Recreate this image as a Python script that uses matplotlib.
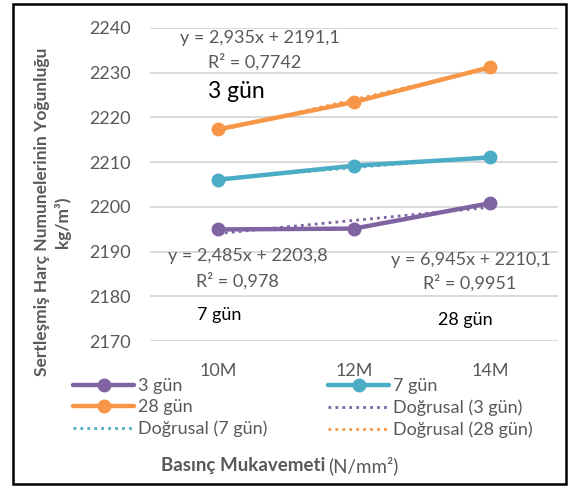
import numpy as np
import matplotlib
matplotlib.use("Agg")
import matplotlib.pyplot as plt
from matplotlib.patches import Rectangle

plt.rcParams['font.family'] = ['Lato', 'DejaVu Sans']

categories = ['10M', '12M', '14M']
gun3 = [2194.95, 2195.14, 2200.82]
gun7 = [2206.07, 2209.20, 2211.04]
gun28 = [2217.33, 2223.43, 2231.22]

series = [('3 gün', gun3, '#8064A2'),
          ('7 gün', gun7, '#4BACC6'),
          ('28 gün', gun28, '#F79646')]

W, H = 575, 488
fig = plt.figure(figsize=(W / 100, H / 100), dpi=100)
ax = fig.add_axes([150 / W, 1 - 341 / H, 408 / W, 313 / H])

x = np.arange(len(categories))
handles = {}
for name, vals, col in series:
    h, = ax.plot(x, vals, color=col, lw=3.2, marker='o', ms=9,
                 solid_capstyle='round', zorder=3, label=name)
    handles[name] = h
    k, b = np.polyfit(x, vals, 1)
    t, = ax.plot(x, k * x + b, color=col, lw=2, ls=(0, (1, 1.5)), zorder=4,
                 label='Doğrusal (%s)' % name)
    handles['D' + name] = t

ax.set_xlim(-0.5, 2.5)
ax.set_ylim(2170, 2240)
ax.set_yticks(range(2170, 2241, 10))
ax.set_xticks(x)
ax.set_xticklabels(categories)
ax.grid(axis='y', color='#D9D9D9', lw=1.4)
ax.set_axisbelow(True)
for s in ax.spines.values():
    s.set_visible(False)
ax.tick_params(length=0, labelsize=13, colors='#595959')
ax.tick_params(axis='y', pad=14)
ax.tick_params(axis='x', pad=16)


def ftext(px, py, s, **kw):
    fig.text(px / W, 1 - py / H, s, va='center', **kw)


gray = '#595959'
ftext(260, 38, 'y = 2,935x + 2191,1', ha='center', fontsize=13, color=gray)
ftext(255, 62, 'R² = 0,7742', ha='center', fontsize=13, color=gray)
ftext(236, 91, '3 gün', ha='center', fontsize=16.5, color='black')
ftext(248, 256, 'y = 2,485x + 2203,8', ha='center', fontsize=13, color=gray)
ftext(237, 281, 'R² = 0,978', ha='center', fontsize=13, color=gray)
ftext(219, 315, '7 gün', ha='center', fontsize=13, color='black')
ftext(471, 260, 'y = 6,945x + 2210,1', ha='center', fontsize=13, color=gray)
ftext(470, 283, 'R² = 0,9951', ha='center', fontsize=13, color=gray)
ftext(465, 320, '28 gün', ha='center', fontsize=13, color='black')

order = ['3 gün', '28 gün', 'D7 gün', '7 gün', 'D3 gün', 'D28 gün']
leg = fig.legend([handles[k] for k in order],
                 [handles[k].get_label() for k in order],
                 ncol=2, loc='upper left', bbox_to_anchor=(73 / W, 1 - 378 / H),
                 frameon=False, fontsize=13, handlelength=3.4,
                 handletextpad=0.2, columnspacing=3.35, labelspacing=0.3,
                 borderaxespad=0, borderpad=0)
for t in leg.get_texts():
    t.set_color(gray)

fig.text(42 / W, 1 - 212 / H, 'Sertleşmiş Harç Numunelerinin Yoğunluğu',
         rotation=90, ha='center', va='center', fontsize=12.5, color=gray,
         fontweight='bold')
fig.text(63 / W, 1 - 222 / H, 'kg/m³)', rotation=90, ha='center',
         va='center', fontsize=12.5, color=gray, fontweight='bold')

ftext(325, 466, 'Basınç Mukavemeti', ha='right', fontsize=13.5, color=gray,
      fontweight='bold')
ftext(328, 466, '(N/mm²)', ha='left', fontsize=13.5, color=gray)

fig.patches.append(Rectangle((13 / W, 4 / H), 553 / W, 480 / H,
                             transform=fig.transFigure, fill=False,
                             ec='black', lw=1.8))

fig.savefig('out.png', dpi=100)
